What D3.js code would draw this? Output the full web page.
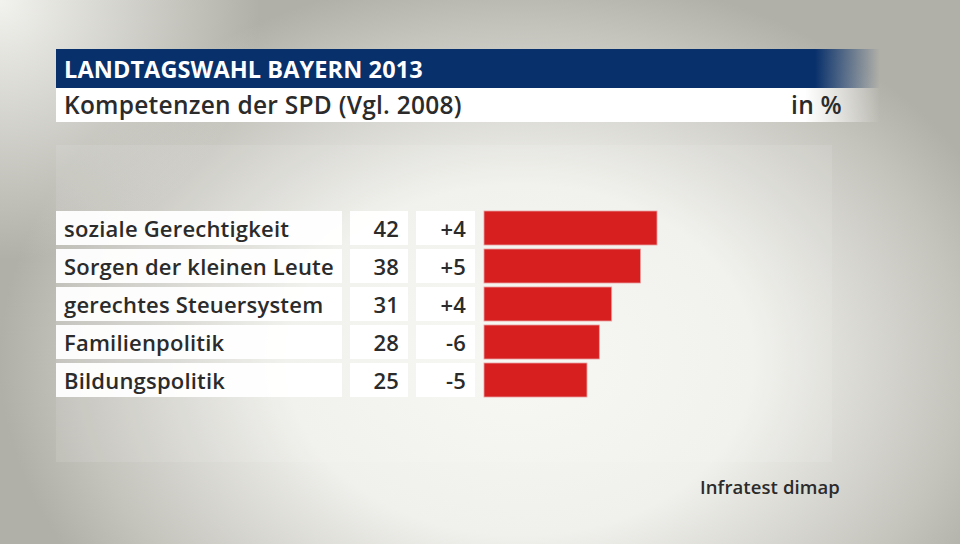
<!DOCTYPE html>
<html><head><meta charset="utf-8">
<script src="https://cdn.jsdelivr.net/npm/d3@7"></script>
<style>body{margin:0;background:#b3b2aa;}svg{display:block;}</style>
</head><body>
<svg id="c" width="960" height="544"></svg>
<script>
const categories = ["soziale Gerechtigkeit","Sorgen der kleinen Leute","gerechtes Steuersystem","Familienpolitik","Bildungspolitik"];
const values = [42,38,31,28,25];
const changes = ["+4","+5","+4","-6","-5"];
const title = "LANDTAGSWAHL BAYERN 2013";
const subtitle = "Kompetenzen der SPD (Vgl. 2008)";
const unit = "in %";
const source = "Infratest dimap";

const svg = d3.select("#c");
const defs = svg.append("defs");
const font = "'Open Sans', sans-serif";

// background
const bg = defs.append("radialGradient").attr("id","bg").attr("gradientUnits","userSpaceOnUse")
  .attr("cx",520).attr("cy",360).attr("r",520).attr("gradientTransform","translate(520,360) scale(1,0.75) translate(-520,-360)");
bg.append("stop").attr("offset","0").attr("stop-color","#f6f6f2");
bg.append("stop").attr("offset","0.45").attr("stop-color","#f0f0ec");
bg.append("stop").attr("offset","0.85").attr("stop-color","#c4c3bc");
bg.append("stop").attr("offset","1").attr("stop-color","#b1b0a8");
svg.append("rect").attr("width",960).attr("height",544).attr("fill","url(#bg)");
const tl = defs.append("radialGradient").attr("id","tl").attr("cx",0).attr("cy",0).attr("r",1);
tl.append("stop").attr("offset","0").attr("stop-color","#f2f2ee").attr("stop-opacity",1);
tl.append("stop").attr("offset","1").attr("stop-color","#f2f2ee").attr("stop-opacity",0);
svg.append("rect").attr("x",0).attr("y",0).attr("width",260).attr("height",260).attr("fill","url(#tl)");

// panel
svg.append("rect").attr("x",56).attr("y",145).attr("width",776).attr("height",317)
  .attr("fill","#ffffff").attr("opacity",0.1);

// title bar
const gb = defs.append("linearGradient").attr("id","gb").attr("gradientUnits","userSpaceOnUse")
  .attr("x1",56).attr("x2",880).attr("y1",0).attr("y2",0);
gb.append("stop").attr("offset",(815-56)/824).attr("stop-color","#08306b").attr("stop-opacity",1);
gb.append("stop").attr("offset",1).attr("stop-color","#08306b").attr("stop-opacity",0);
svg.append("rect").attr("x",56).attr("y",49).attr("width",824).attr("height",39).attr("fill","url(#gb)");
const gw = defs.append("linearGradient").attr("id","gw").attr("gradientUnits","userSpaceOnUse")
  .attr("x1",56).attr("x2",880).attr("y1",0).attr("y2",0);
gw.append("stop").attr("offset",(805-56)/824).attr("stop-color","#ffffff").attr("stop-opacity",1);
gw.append("stop").attr("offset",1).attr("stop-color","#ffffff").attr("stop-opacity",0);
svg.append("rect").attr("x",56).attr("y",88).attr("width",824).attr("height",34).attr("fill","url(#gw)");

svg.append("text").attr("x",64).attr("y",78).attr("fill","#fff").attr("font-family",font)
  .attr("font-weight",700).attr("font-size",23.5).attr("letter-spacing",0.1).text(title);
svg.append("text").attr("x",64).attr("y",114).attr("fill","#2b2b2b").attr("font-family",font)
  .attr("font-weight",600).attr("font-size",24.5).attr("letter-spacing",0.25).text(subtitle);
svg.append("text").attr("x",842).attr("y",114).attr("text-anchor","end").attr("fill","#2b2b2b").attr("font-family",font)
  .attr("font-weight",600).attr("font-size",24.5).attr("letter-spacing",0.25).text(unit);

// rows
const y = d3.scaleBand().domain(categories).range([211,397]).paddingInner(4/38).paddingOuter(0);
const x = d3.scaleLinear().domain([0,42]).range([484,657]);

const rows = svg.append("g").selectAll("g").data(categories).join("g");
rows.append("rect").attr("x",56).attr("y",d=>y(d)).attr("width",286).attr("height",y.bandwidth()).attr("fill","#fff").attr("opacity",0.95);
rows.append("rect").attr("x",350).attr("y",d=>y(d)).attr("width",58).attr("height",y.bandwidth()).attr("fill","#fff").attr("opacity",0.95);
rows.append("rect").attr("x",416).attr("y",d=>y(d)).attr("width",59).attr("height",y.bandwidth()).attr("fill","#fff").attr("opacity",0.95);
rows.append("rect").attr("x",x(0)).attr("y",d=>y(d)).attr("width",(d,i)=>x(values[i])-x(0)).attr("height",y.bandwidth())
  .attr("fill","#d81f20").attr("stroke","#e9a0a0").attr("stroke-width",0.8);

const tattr = s=>s.attr("font-family",font).attr("font-weight",600).attr("font-size",22).attr("fill","#2b2b2b").attr("letter-spacing",0.2);
rows.append("text").attr("x",64).attr("y",d=>y(d)+y.bandwidth()/2+9).text(d=>d).call(tattr);
rows.append("text").attr("x",399).attr("y",d=>y(d)+y.bandwidth()/2+9).attr("text-anchor","end").text((d,i)=>values[i]).call(tattr);
rows.append("text").attr("x",466).attr("y",d=>y(d)+y.bandwidth()/2+9).attr("text-anchor","end").text((d,i)=>changes[i]).call(tattr);

svg.append("text").attr("x",840).attr("y",494).attr("text-anchor","end").attr("font-family",font)
  .attr("font-weight",600).attr("font-size",18.5).attr("letter-spacing",0.1).attr("fill","#2b2b2b").text(source);
</script>
</body></html>
